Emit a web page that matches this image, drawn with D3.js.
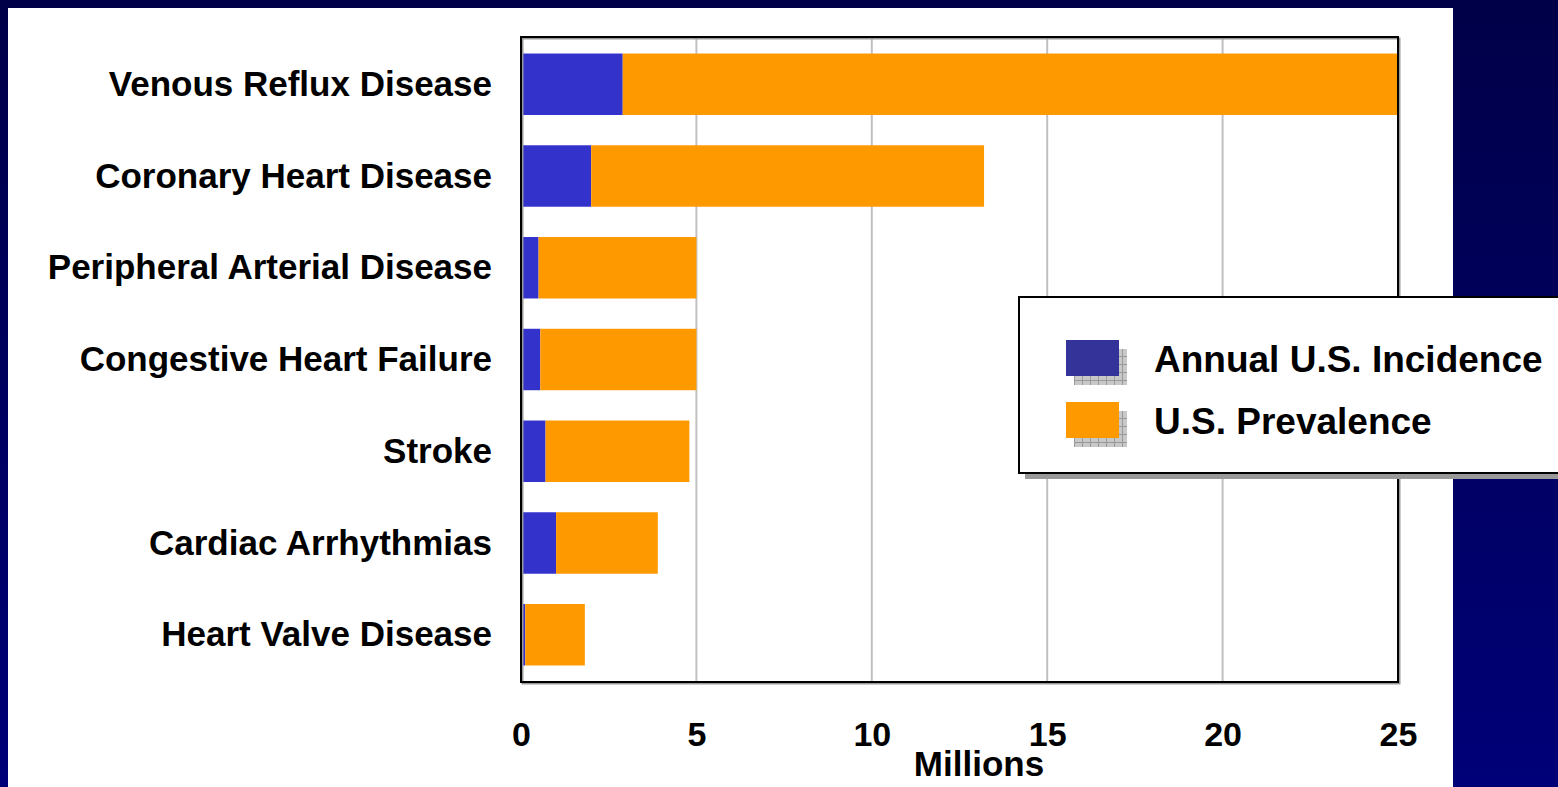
<!DOCTYPE html>
<html lang="en">
<head>
  <meta charset="utf8">
  <script src="https://cdn.jsdelivr.net/npm/d3@7"></script>
  <title>Vascular disease</title>
  <style>
    body { margin: 0; background: #000050; }
    svg { display: block; }
    text { font-family: Arial, "Liberation Sans", sans-serif; font-weight: bold; fill: #000; }
  </style>
</head>
<body>
  <div id="chart"></div>
<script>
  var width = 1558, height = 787;

  // data (millions)
  var categories = ["Venous Reflux Disease", "Coronary Heart Disease", "Peripheral Arterial Disease",
    "Congestive Heart Failure", "Stroke", "Cardiac Arrhythmias", "Heart Valve Disease"];
  var incidence = [2.9, 2.0, 0.5, 0.55, 0.7, 1.0, 0.12];
  var prevalence = [22.1, 11.2, 4.5, 4.45, 4.1, 2.9, 1.7];
  var seriesNames = ["Annual U.S. Incidence", "U.S. Prevalence"];
  var xTicks = [0, 5, 10, 15, 20, 25];

  var colors = ["#3333cc", "#ff9900"];
  var legendColors = ["#333399", "#ff9900"];

  var svg = d3.select("#chart").append("svg")
    .attr("width", width).attr("height", height);

  var defs = svg.append("defs");
  var grad = defs.append("linearGradient").attr("id", "bg")
    .attr("x1", 0).attr("y1", 0).attr("x2", 0).attr("y2", 1);
  grad.append("stop").attr("offset", "0%").attr("stop-color", "#000048");
  grad.append("stop").attr("offset", "100%").attr("stop-color", "#000078");

  // hatched grey used for the legend swatch shadows
  var pat = defs.append("pattern").attr("id", "hatch")
    .attr("width", 8).attr("height", 8).attr("patternUnits", "userSpaceOnUse");
  pat.append("rect").attr("width", 8).attr("height", 8).attr("fill", "#c8c8c8");
  pat.append("path").attr("d", "M0,0.5H8M0.5,0V8").attr("stroke", "#999").attr("stroke-width", 1);

  svg.append("rect").attr("width", width).attr("height", height).attr("fill", "url(#bg)");
  svg.append("rect").attr("x", 8).attr("y", 8).attr("width", 1445).attr("height", height - 8)
    .attr("fill", "#fff");

  var plot = { left: 521, top: 37, right: 1398, bottom: 682 };

  var x = d3.scaleLinear().domain([0, 25]).range([plot.left, plot.right]);
  var y = d3.scaleBand().domain(categories).range([plot.top, plot.bottom])
    .paddingInner(0.33).paddingOuter(0.18);

  // gridlines
  svg.append("g").selectAll("line")
    .data(xTicks.slice(1, -1))
    .enter().append("line")
    .attr("x1", function (d) { return x(d); })
    .attr("x2", function (d) { return x(d); })
    .attr("y1", plot.top).attr("y2", plot.bottom)
    .attr("stroke", "#c0c0c0").attr("stroke-width", 2);

  // stacked bars
  var rows = categories.map(function (c, i) {
    return { cat: c, inc: incidence[i], prev: prevalence[i] };
  });
  var stacked = d3.stack().keys(["inc", "prev"])(rows);

  svg.append("g").selectAll("g")
    .data(stacked)
    .enter().append("g")
    .attr("fill", function (d, i) { return colors[i]; })
    .selectAll("rect")
    .data(function (d) { return d; })
    .enter().append("rect")
    .attr("x", function (d) { return x(d[0]); })
    .attr("width", function (d) { return x(d[1]) - x(d[0]); })
    .attr("y", function (d) { return y(d.data.cat); })
    .attr("height", y.bandwidth());

  // plot frame with a soft grey shadow
  svg.append("rect")
    .attr("x", plot.left + 1.5).attr("y", plot.top + 1.5)
    .attr("width", plot.right - plot.left).attr("height", plot.bottom - plot.top)
    .attr("fill", "none").attr("stroke", "#999").attr("stroke-width", 2);
  svg.append("rect")
    .attr("x", plot.left).attr("y", plot.top)
    .attr("width", plot.right - plot.left).attr("height", plot.bottom - plot.top)
    .attr("fill", "none").attr("stroke", "#000").attr("stroke-width", 2);

  // category labels
  svg.append("g").selectAll("text")
    .data(categories)
    .enter().append("text")
    .attr("x", 492)
    .attr("y", function (d) { return y(d) + y.bandwidth() / 2; })
    .attr("dy", "0.33em")
    .attr("text-anchor", "end")
    .style("font-size", "35px")
    .text(function (d) { return d; });

  // x axis labels
  var xAxis = d3.axisBottom(x).tickValues(xTicks).tickSize(0).tickPadding(0);
  var gx = svg.append("g").attr("transform", "translate(0," + 746 + ")").call(xAxis);
  gx.select(".domain").remove();
  gx.selectAll("text")
    .attr("y", 0).attr("dy", 0)
    .style("font-size", "34px")
    .style("font-family", "Arial, 'Liberation Sans', sans-serif")
    .style("font-weight", "bold").attr("fill", "#000");

  svg.append("text")
    .attr("x", 979).attr("y", 776)
    .attr("text-anchor", "middle")
    .style("font-size", "35px")
    .text("Millions");

  // legend
  var lg = svg.append("g");
  lg.append("rect").attr("x", 1025).attr("y", 303).attr("width", 600).attr("height", 176)
    .attr("fill", "#999");
  lg.append("rect").attr("x", 1019).attr("y", 297).attr("width", 600).attr("height", 176)
    .attr("fill", "#fff").attr("stroke", "#000").attr("stroke-width", 2);

  var items = lg.selectAll("g.item")
    .data(seriesNames)
    .enter().append("g").attr("class", "item")
    .attr("transform", function (d, i) { return "translate(1066," + (340 + i * 62) + ")"; });
  items.append("rect").attr("x", 8).attr("y", 9).attr("width", 53).attr("height", 36)
    .attr("fill", "url(#hatch)");
  items.append("rect").attr("width", 53).attr("height", 36)
    .attr("fill", function (d, i) { return legendColors[i]; });
  items.append("text")
    .attr("x", 88).attr("y", 19).attr("dy", "0.36em")
    .style("font-size", "37px")
    .text(function (d) { return d; });
</script>
</body>
</html>
